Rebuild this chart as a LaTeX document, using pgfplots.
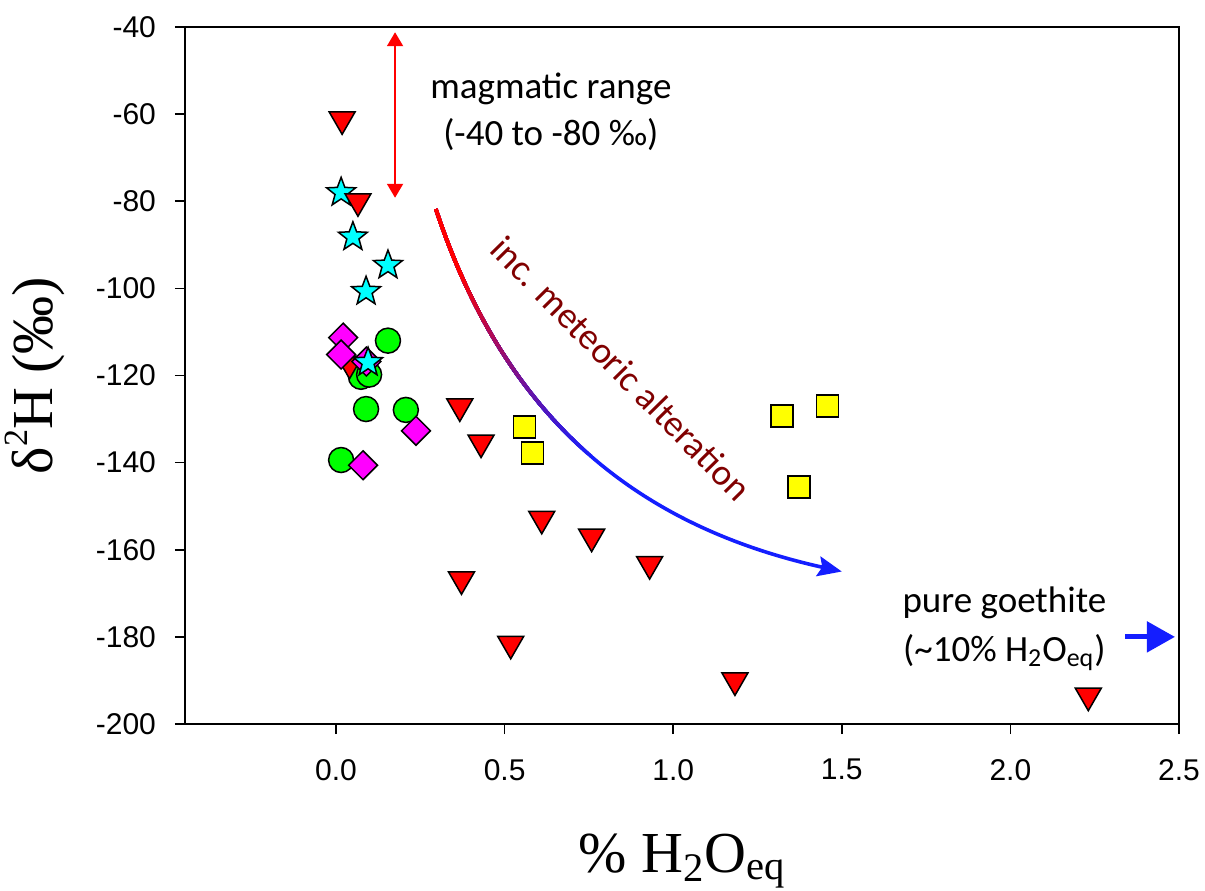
\documentclass[border=0pt]{standalone}
\usepackage{fontspec}
\setmainfont{Liberation Sans}
\newfontfamily\calib{Carlito}
\newfontfamily\tnr{Liberation Serif}
\usepackage{pgfplots}
\pgfplotsset{compat=1.18}
\usetikzlibrary{arrows.meta,calc}
\definecolor{maroonc}{RGB}{128,0,0}
\definecolor{arrowblue}{RGB}{20,30,255}
\definecolor{cgreen}{RGB}{0,255,0}
\definecolor{cred}{RGB}{255,0,0}
\definecolor{cmag}{RGB}{255,0,255}
\definecolor{cyel}{RGB}{255,255,0}
\definecolor{ccyan}{RGB}{0,255,255}
\pgfdeclareplotmark{fstar}{%
  \pgfpathmoveto{\pgfqpointpolar{90}{\pgfplotmarksize}}%
  \pgfpathlineto{\pgfqpointpolar{126}{0.42\pgfplotmarksize}}%
  \pgfpathlineto{\pgfqpointpolar{162}{\pgfplotmarksize}}%
  \pgfpathlineto{\pgfqpointpolar{198}{0.42\pgfplotmarksize}}%
  \pgfpathlineto{\pgfqpointpolar{234}{\pgfplotmarksize}}%
  \pgfpathlineto{\pgfqpointpolar{270}{0.42\pgfplotmarksize}}%
  \pgfpathlineto{\pgfqpointpolar{306}{\pgfplotmarksize}}%
  \pgfpathlineto{\pgfqpointpolar{342}{0.42\pgfplotmarksize}}%
  \pgfpathlineto{\pgfqpointpolar{18}{\pgfplotmarksize}}%
  \pgfpathlineto{\pgfqpointpolar{54}{0.42\pgfplotmarksize}}%
  \pgfpathclose
  \pgfusepathqfillstroke}
\tikzset{curvearrow/.style={line width=1.8pt, -{Stealth[length=12pt,width=10pt,inset=2pt]}}}
\begin{document}
\begin{tikzpicture}
\begin{axis}[
  scale only axis, width=497pt, height=348.5pt,
  xmin=-0.448, xmax=2.5, ymin=-200, ymax=-40,
  axis line style={line width=1pt},
  xtick={0,0.5,1,1.5,2,2.5}, xticklabels={0.0,0.5,1.0,1.5,2.0,2.5},
  ytick={-200,-180,-160,-140,-120,-100,-80,-60,-40},
  yticklabels={-200,-180,-160,-140,-120,-100,-80,-60,-40},
  tick align=outside, major tick length=5pt,
  tick style={line width=0.8pt, black},
  xtick pos=bottom, ytick pos=left,
  ticklabel style={font=\fontsize{15}{18}\selectfont},
  xticklabel style={yshift=-9pt},
  yticklabel style={xshift=-6pt},
  xlabel={\tnr\fontsize{29}{34}\selectfont \% H\textsubscript{2}O\textsubscript{eq}},
  xlabel style={at={(axis description cs:0.5,0)}, anchor=base, yshift=-74pt},
  ylabel={\tnr\fontsize{29}{34}\selectfont δ\raisebox{0.42em}{\fontsize{17}{17}\selectfont 2}H (‰)},
  ylabel style={at={(axis description cs:-0.151,0.5)}, anchor=center},
  clip=false,
]
% green circles
\addplot[only marks, mark=*, mark size=6.25pt,
  mark options={fill=cgreen, draw=black, line width=0.75pt}] coordinates {
  (0.154,-112) (0.074,-120.3) (0.098,-119.8) (0.089,-127.7) (0.207,-127.9) (0.015,-139.4)};
% red triangles
\addplot[only marks, mark=triangle*, mark size=7.5pt,
  mark options={rotate=180, fill=cred, draw=black, line width=0.75pt}] coordinates {
  (0.018,-61.2) (0.04,-117.3) (0.367,-127.1) (0.43,-135.4) (0.61,-152.9)
  (0.758,-157.0) (0.93,-163.3) (0.372,-166.8) (0.518,-181.6) (1.183,-190.0) (2.231,-193.5)};
% magenta diamonds
\addplot[only marks, mark=square*, mark size=5.1pt,
  mark options={rotate=45, fill=cmag, draw=black, line width=0.75pt}] coordinates {
  (0.021,-111.3) (0.015,-115.2) (0.09,-116.8) (0.237,-132.7) (0.08,-140.6)};
% yellow squares
\addplot[only marks, mark=square*, mark size=5.5pt,
  mark options={fill=cyel, draw=black, line width=0.75pt}] coordinates {
  (0.559,-131.8) (0.582,-137.8) (1.323,-129.3) (1.458,-127.0) (1.373,-145.6)};
% cyan stars
\addplot[only marks, mark=fstar, mark size=7.6pt,
  mark options={fill=ccyan, draw=black, line width=0.75pt}] coordinates {
  (0.015,-78) (0.05,-88.2) (0.154,-94.7) (0.089,-100.7) (0.095,-117)};
% red triangle drawn over the star
\addplot[only marks, mark=triangle*, mark size=7.5pt,
  mark options={rotate=180, fill=cred, draw=black, line width=0.75pt}] coordinates {
  (0.065,-80.0)};

% magmatic range arrow
\draw[cred, line width=1pt, {Triangle[length=7pt,width=8pt]}-{Triangle[length=7pt,width=8pt]}]
  (axis cs:0.175,-41.2) -- (axis cs:0.175,-79.2);
\node[anchor=base, font=\calib\fontsize{18.5}{22}\selectfont] at (axis cs:0.637,-56.4) {magmatic range};
\node[anchor=base, font=\calib\fontsize{18.5}{22}\selectfont] at (axis cs:0.637,-67.2) {(-40 to -80 ‰)};

% pure goethite
\node[anchor=base, font=\calib\fontsize{18.5}{22}\selectfont] at (axis cs:1.982,-174.5) {pure goethite};
\node[anchor=base, font=\calib\fontsize{18.5}{22}\selectfont] at (axis cs:1.982,-185.6)
  {(\textasciitilde 10\% H\textsubscript{2}O\textsubscript{eq})};
\draw[arrowblue, line width=2.5pt, -{Triangle[length=14pt,width=15pt]}]
  (axis cs:2.34,-180) -- (axis cs:2.488,-180);

% meteoric text
\node[rotate=-45.5, text=maroonc, font=\calib\fontsize{18.5}{22}\selectfont]
  at (axis cs:0.846,-118.4) {inc. meteoric alteration};

% curve coordinates
\coordinate (P0) at (axis cs:0.296,-81.8);
\coordinate (P1) at (axis cs:0.485,-126.0);
\coordinate (P2) at (axis cs:0.840,-153.7);
\coordinate (P3) at (axis cs:1.500,-165.0);
\coordinate (G0) at (axis cs:0,-97);
\coordinate (G1) at (axis cs:0,-140);
\coordinate (TL) at (axis cs:0,-70);
\coordinate (XR) at (axis cs:2,-70);
\coordinate (BL) at (rel axis cs:0,0);
\coordinate (TR) at (rel axis cs:1,1);
\end{axis}

\draw[arrowblue, curvearrow] (P0) .. controls (P1) and (P2) .. (P3);
\foreach \k in {1,...,24} {
  \pgfmathsetmacro{\pct}{\k*100/24}
  \coordinate (L) at ($(G1)!\k/24!(G0)$);
  \begin{scope}
    \clip (TL) rectangle (XR |- L);
    \draw[cred!\pct!arrowblue, curvearrow] (P0) .. controls (P1) and (P2) .. (P3);
  \end{scope}
}

\pgfresetboundingbox
\path ([shift={(-92.5pt,-83pt)}]BL) rectangle ([shift={(13pt,13.5pt)}]TR);
\end{tikzpicture}
\end{document}
